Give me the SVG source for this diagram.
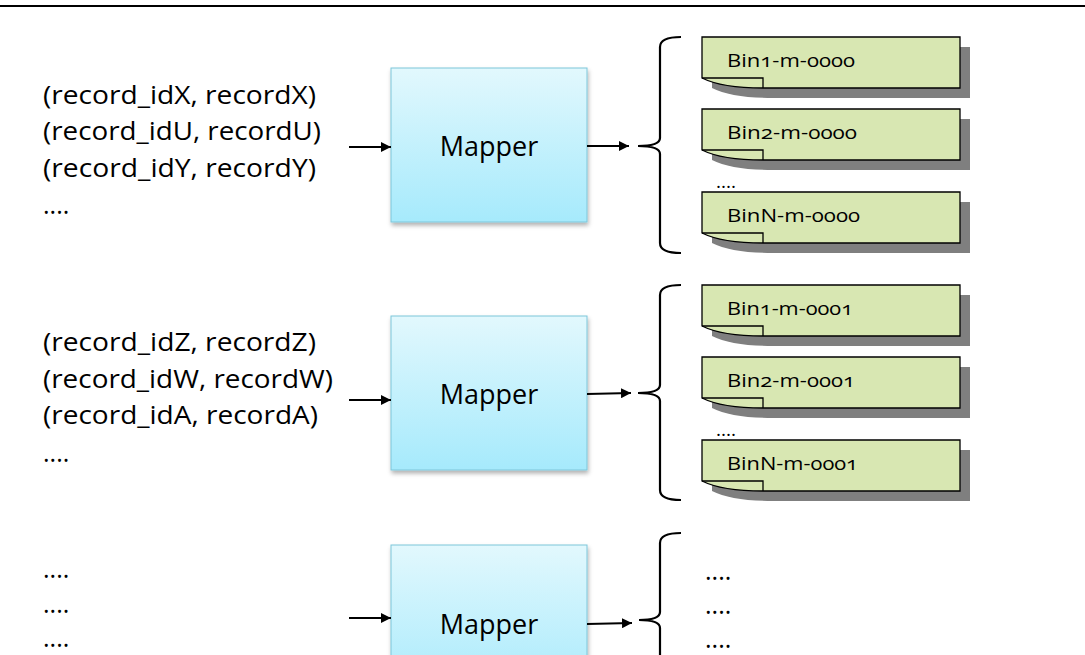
<svg xmlns="http://www.w3.org/2000/svg" width="1085" height="655" viewBox="0 0 1085 655">
<style>
.t{font-family:"Open Sans","Noto Sans",sans-serif;fill:#000}
.in{font-size:25px}
.map{font-size:27px}
.bin{font-size:19px;font-variant-numeric:oldstyle-nums}
.box{fill:url(#bg);stroke:#7cc6da;stroke-width:1}
.card{fill:#d8e7b2;stroke:#000;stroke-width:1.3}
.fold{fill:none;stroke:#000;stroke-width:1.3}
.shadow{fill:#7f7f7f}
.conn line{stroke:#000;stroke-width:2;marker-end:url(#ah)}
.br{fill:none;stroke:#000;stroke-width:2.2}
</style>
<defs>
<linearGradient id="bg" x1="0" y1="0" x2="0" y2="1">
<stop offset="0" stop-color="#e2f8fd"/>
<stop offset="1" stop-color="#a6eafc"/>
</linearGradient>
<filter id="ds" x="-10%" y="-10%" width="130%" height="130%">
<feDropShadow dx="1" dy="3" stdDeviation="2" flood-color="#000" flood-opacity="0.3"/>
</filter>
<marker id="ah" viewBox="0 0 10 10" refX="10" refY="5" markerWidth="5" markerHeight="5" orient="auto" markerUnits="strokeWidth">
<path d="M0,0 L10,5 L0,10 z" fill="#000"/>
</marker>
<path id="sh" class="shadow" d="M0,0 H258 V51 H61 Q20,51 0,41 Z"/>
<g id="card">
<path class="card" d="M0,0 H258 V51 H61 Q20,51 0,41 Z"/>
<path class="fold" d="M0,41 H61 V51"/>
</g>
</defs>
<rect width="1085" height="655" fill="#fff"/>
<line x1="0" y1="6" x2="1085" y2="6" stroke="#000" stroke-width="2.2"/>

<g id="inputs1">
<text class="t in" x="43" y="104" textLength="273" lengthAdjust="spacingAndGlyphs">(record_idX, recordX)</text>
<text class="t in" x="43" y="140" textLength="278" lengthAdjust="spacingAndGlyphs">(record_idU, recordU)</text>
<text class="t in" x="43" y="177" textLength="273" lengthAdjust="spacingAndGlyphs">(record_idY, recordY)</text>
<text class="t in" x="43" y="214">....</text>
</g>
<g id="inputs2">
<text class="t in" x="43" y="351" textLength="273" lengthAdjust="spacingAndGlyphs">(record_idZ, recordZ)</text>
<text class="t in" x="43" y="388" textLength="290" lengthAdjust="spacingAndGlyphs">(record_idW, recordW)</text>
<text class="t in" x="43" y="424" textLength="275" lengthAdjust="spacingAndGlyphs">(record_idA, recordA)</text>
<text class="t in" x="43" y="462">....</text>
</g>
<g id="inputs3">
<text class="t in" x="43" y="578">....</text>
<text class="t in" x="43" y="613">....</text>
<text class="t in" x="43" y="647">....</text>
</g>

<g id="mapper1">
<rect class="box" x="391" y="68" width="196" height="154" filter="url(#ds)"/>
<text class="t map" x="489" y="156" text-anchor="middle">Mapper</text>
</g>
<g id="mapper2">
<rect class="box" x="391" y="316" width="196" height="154" filter="url(#ds)"/>
<text class="t map" x="489" y="404" text-anchor="middle">Mapper</text>
</g>
<g id="mapper3">
<rect class="box" x="391" y="545" width="196" height="154" filter="url(#ds)"/>
<text class="t map" x="489" y="634" text-anchor="middle">Mapper</text>
</g>

<g id="bins1">
<use href="#sh" x="712" y="47"/><use href="#card" x="702" y="37"/>
<text class="t bin" x="727" y="67" textLength="128" lengthAdjust="spacingAndGlyphs">Bin1-m-0000</text>
<use href="#sh" x="712" y="119"/><use href="#card" x="702" y="109"/>
<text class="t bin" x="727" y="139" textLength="130" lengthAdjust="spacingAndGlyphs">Bin2-m-0000</text>
<text class="t bin" x="716" y="188">....</text>
<use href="#sh" x="712" y="202"/><use href="#card" x="702" y="192"/>
<text class="t bin" x="727" y="222" textLength="133" lengthAdjust="spacingAndGlyphs">BinN-m-0000</text>
</g>
<g id="bins2">
<use href="#sh" x="712" y="295"/><use href="#card" x="702" y="285"/>
<text class="t bin" x="727" y="315" textLength="126" lengthAdjust="spacingAndGlyphs">Bin1-m-0001</text>
<use href="#sh" x="712" y="367"/><use href="#card" x="702" y="357"/>
<text class="t bin" x="727" y="387" textLength="128" lengthAdjust="spacingAndGlyphs">Bin2-m-0001</text>
<text class="t bin" x="716" y="436">....</text>
<use href="#sh" x="712" y="450"/><use href="#card" x="702" y="440"/>
<text class="t bin" x="727" y="470" textLength="131" lengthAdjust="spacingAndGlyphs">BinN-m-0001</text>
</g>
<g id="bins3">
<text class="t in" x="705" y="580">....</text>
<text class="t in" x="705" y="614">....</text>
<text class="t in" x="705" y="648">....</text>
</g>

<g id="connectors" class="conn">
<line x1="349" y1="147" x2="391" y2="147"/>
<line x1="349" y1="400" x2="391" y2="400"/>
<line x1="349" y1="618" x2="391" y2="618"/>
<line x1="587" y1="146" x2="629" y2="146"/>
<line x1="587" y1="394" x2="631" y2="393"/>
<line x1="587" y1="624" x2="632" y2="623"/>
<path class="br" d="M681,37 Q660,37 660,47 V138 Q660,146 638,146 Q660,146 660,154 V243 Q660,253 681,253"/>
<path class="br" d="M681,285 Q660,285 660,295 V385 Q660,393 638,393 Q660,393 660,401 V490 Q660,500 681,500"/>
<path class="br" d="M681,533 Q660,533 660,543 V612 Q660,620 639,620 Q660,620 660,628 V660"/>
</g>
</svg>
